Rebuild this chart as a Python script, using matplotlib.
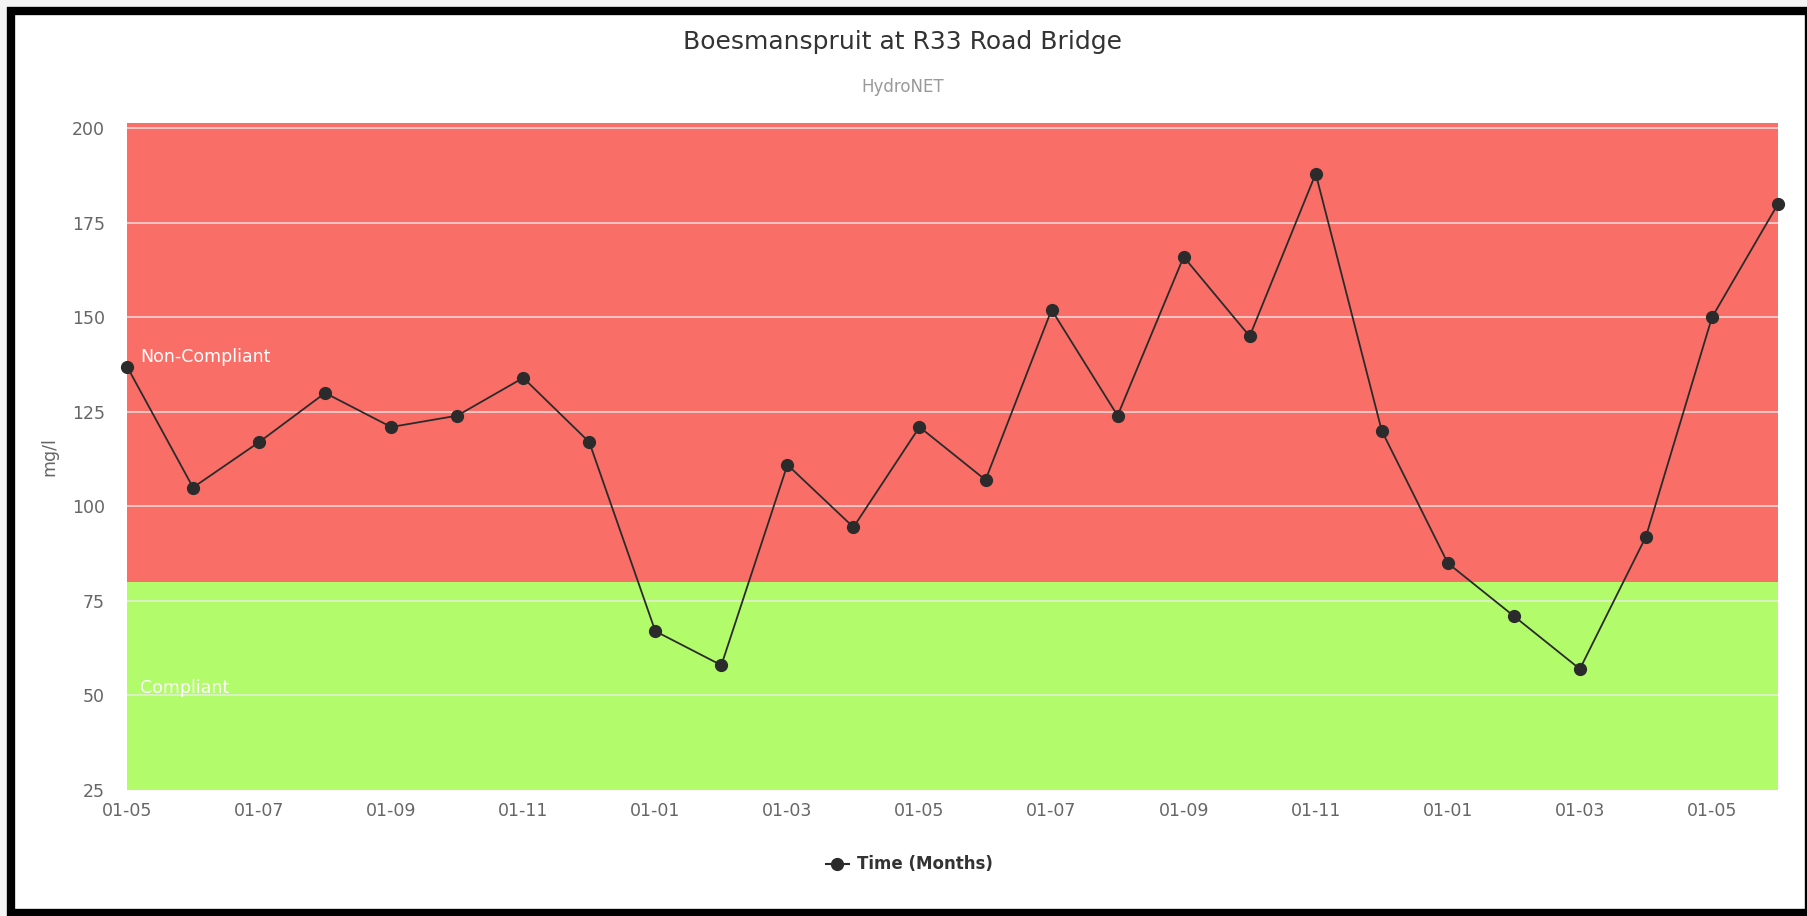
import matplotlib
matplotlib.use("Agg")
import matplotlib.pyplot as plt
from matplotlib.patches import Rectangle

# monthly readings, May 2017 .. Jun 2019
mes = list(range(26))
valores = [137, 105, 117, 130, 121, 124, 134, 117, 67, 58, 111, 94.5, 121, 107,
           152, 124, 166, 145, 188, 120, 85, 71, 57, 92, 150, 180]
etiquetas_x = ["01-05", "01-07", "01-09", "01-11", "01-01", "01-03", "01-05",
               "01-07", "01-09", "01-11", "01-01", "01-03", "01-05"]
pos_x = list(range(0, 26, 2))
ticks_y = [25, 50, 75, 100, 125, 150, 175, 200]
limite = 80
y_min, y_max = 25, 201.4

ancho, alto = 18.08, 9.16
fig = plt.figure(figsize=(ancho, alto), dpi=100)
fig.patch.set_facecolor("#f4f4f4")

# white card with black frame (pixel coords from top-left)
W, H = 1808, 916
x0, y0, x1, y1 = 11, 11, 1809, 913
fig.patches.append(Rectangle((x0 / W, 1 - y1 / H), (x1 - x0) / W, (y1 - y0) / H,
                             transform=fig.transFigure, facecolor="white",
                             edgecolor="black", linewidth=6, zorder=-10))

ax = fig.add_axes([127 / W, 1 - 790 / H, (1778 - 127) / W, (790 - 123) / H])
ax.set_xlim(0, 25)
ax.set_ylim(y_min, y_max)

ax.axhspan(y_min, limite, color="#b2fb6a", zorder=0, lw=0)
ax.axhspan(limite, y_max, color="#f96e67", zorder=0, lw=0)
for t in ticks_y[1:]:
    ax.axhline(t, color="#ececec", alpha=0.75, lw=1.3, zorder=1)

ax.plot(mes, valores, color="#2b2b2b", lw=1.3, marker="o", markersize=8.5,
        zorder=3, clip_on=False)

ax.text(0.2, 139.5, "Non-Compliant", color="white", fontsize=12.5, va="center")
ax.text(0.2, 52, "Compliant", color="white", fontsize=12.5, va="center")

ax.set_xticks(pos_x)
ax.set_xticklabels(etiquetas_x)
ax.set_yticks(ticks_y)
ax.tick_params(axis="both", length=0, labelsize=12.5, labelcolor="#666666")
ax.tick_params(axis="x", pad=9)
ax.tick_params(axis="y", pad=16)
for s in ax.spines.values():
    s.set_visible(False)
ax.set_ylabel("mg/l", fontsize=12.5, color="#666666", labelpad=10)

fig.text(903 / W, 1 - 42 / H, "Boesmanspruit at R33 Road Bridge", ha="center",
         va="center", fontsize=18, color="#333333")
fig.text(903 / W, 1 - 87 / H, "HydroNET", ha="center", va="center",
         fontsize=12, color="#999999")

# legend entry
ly = 1 - 864 / H
fig.lines.append(plt.Line2D([826 / W, 849 / W], [ly, ly], transform=fig.transFigure,
                            color="#2b2b2b", lw=1.5))
fig.lines.append(plt.Line2D([837.5 / W], [ly], transform=fig.transFigure,
                            color="#2b2b2b", marker="o", markersize=8.5))
fig.text(857 / W, ly, "Time (Months)", ha="left", va="center", fontsize=12,
         fontweight="bold", color="#333333")

fig.savefig("out.png", dpi=100)
